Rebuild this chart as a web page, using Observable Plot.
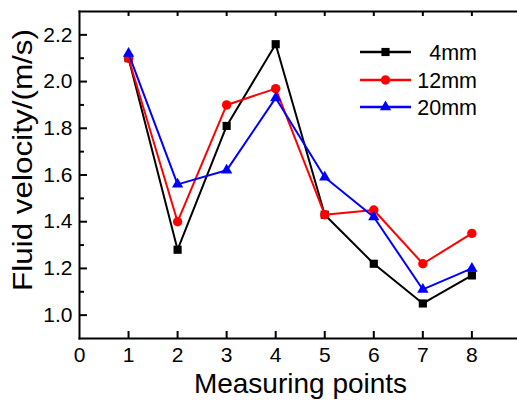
<!DOCTYPE html>
<html><head><meta charset="utf-8">
<script src="https://cdn.jsdelivr.net/npm/d3@7"></script>
<script src="https://cdn.jsdelivr.net/npm/@observablehq/plot@0.6"></script>
<style>
body{margin:0;background:#fff;overflow:hidden;font-family:"Liberation Sans",Arial,sans-serif}
#wrap{position:relative;width:517px;height:401px}
#legend{position:absolute;left:0;top:0;pointer-events:none}
</style></head><body><div id="wrap"></div>
<script>
const points = [1, 2, 3, 4, 5, 6, 7, 8];
const seriesNames = ["4mm", "12mm", "20mm"];
const v4mm  = [2.10, 1.28, 1.81, 2.16, 1.43, 1.22, 1.05, 1.17];
const v12mm = [2.10, 1.40, 1.90, 1.97, 1.43, 1.45, 1.22, 1.35];
const v20mm = [2.12, 1.56, 1.62, 1.93, 1.59, 1.42, 1.11, 1.20];
const seriesColors = ["#000000", "#ff0000", "#0000ff"];
const seriesSymbols = ["square", "circle", "triangle"];
const symbolR = [4.6, 4.7, 4.2];
const xTicks = [0, 1, 2, 3, 4, 5, 6, 7, 8];
const yTicks = [1.0, 1.2, 1.4, 1.6, 1.8, 2.0, 2.2];
const yMinorTicks = [1.1, 1.3, 1.5, 1.7, 1.9, 2.1];
const xTitle = "Measuring points";
const yTitle = "Fluid velocity/(m/s)";

const seriesValues = [v4mm, v12mm, v20mm];
const rows = seriesNames.flatMap((s, i) => points.map((p, j) => ({series: s, idx: i, x: p, y: seriesValues[i][j]})));

const marks = [
  Plot.frame({anchor: "left", strokeWidth: 2}),
  Plot.frame({anchor: "bottom", strokeWidth: 2}),
  Plot.frame({anchor: "top", strokeWidth: 2}),
  Plot.axisX(xTicks.filter(d => d > 0), {anchor: "bottom", tickSize: -7, strokeWidth: 2, tickFormat: () => "", label: null}),
  Plot.axisX(xTicks.filter(d => d > 0), {anchor: "top", tickSize: -4, strokeWidth: 2, tickFormat: () => "", label: null}),
  Plot.axisX(xTicks, {anchor: "bottom", tickSize: 0, tickPadding: 9, fontSize: 21, label: null}),
  Plot.axisY(yTicks, {anchor: "left", tickSize: -8, strokeWidth: 2, tickFormat: () => "", label: null}),
  Plot.axisY(yMinorTicks, {anchor: "left", tickSize: -5, strokeWidth: 2, tickFormat: () => "", label: null}),
  Plot.axisY(yTicks, {anchor: "left", tickSize: 0, tickPadding: 7, fontSize: 21, tickFormat: d => d.toFixed(1), label: null}),
  Plot.text([xTitle], {frameAnchor: "bottom", lineAnchor: "top", dy: 35, dx: 2, fontSize: 28}),
  Plot.text([yTitle], {frameAnchor: "left", textAnchor: "middle", rotate: -90, fontSize: 28, dx: -56, dy: -15})
];
seriesNames.forEach((s, i) => {
  const data = rows.filter(r => r.idx === i);
  marks.push(Plot.line(data, {x: "x", y: "y", stroke: seriesColors[i], strokeWidth: 2}));
  marks.push(Plot.dot(data, {x: "x", y: "y", fill: seriesColors[i], symbol: seriesSymbols[i], r: symbolR[i], stroke: "none"}));
});

const chart = Plot.plot({
  width: 517, height: 401,
  marginLeft: 79, marginRight: 0, marginTop: 11, marginBottom: 63,
  style: {fontFamily: '"Liberation Sans", Arial, sans-serif', background: "#fff", color: "#000"},
  x: {domain: [0, 8.93], axis: null},
  y: {domain: [0.9, 2.3], axis: null},
  marks
});
d3.select(chart).selectAll("text").filter(function() { return this.textContent === yTitle; })
  .attr("textLength", 262).attr("lengthAdjust", "spacingAndGlyphs");
const wrap = document.getElementById("wrap");
wrap.appendChild(chart);

// legend overlay
const leg = d3.select(wrap).append("svg").attr("id", "legend").attr("width", 517).attr("height", 401);
const rowY = [52, 80, 107];
seriesNames.forEach((s, i) => {
  const g = leg.append("g").attr("transform", `translate(0,${rowY[i]})`);
  g.append("line").attr("x1", 360).attr("x2", 411).attr("y1", 0).attr("y2", 0).attr("stroke", seriesColors[i]).attr("stroke-width", 2.5);
  const sym = {square: d3.symbolSquare, circle: d3.symbolCircle, triangle: d3.symbolTriangle}[seriesSymbols[i]];
  g.append("path").attr("transform", "translate(385.5,0)").attr("d", d3.symbol(sym, Math.PI * symbolR[i] * symbolR[i])()).attr("fill", seriesColors[i]);
  g.append("text").attr("x", 477).attr("y", 0).attr("dy", "0.36em").attr("text-anchor", "end").attr("font-size", 21.5).attr("font-family", '"Liberation Sans", Arial, sans-serif').text(s);
});
</script></body></html>
